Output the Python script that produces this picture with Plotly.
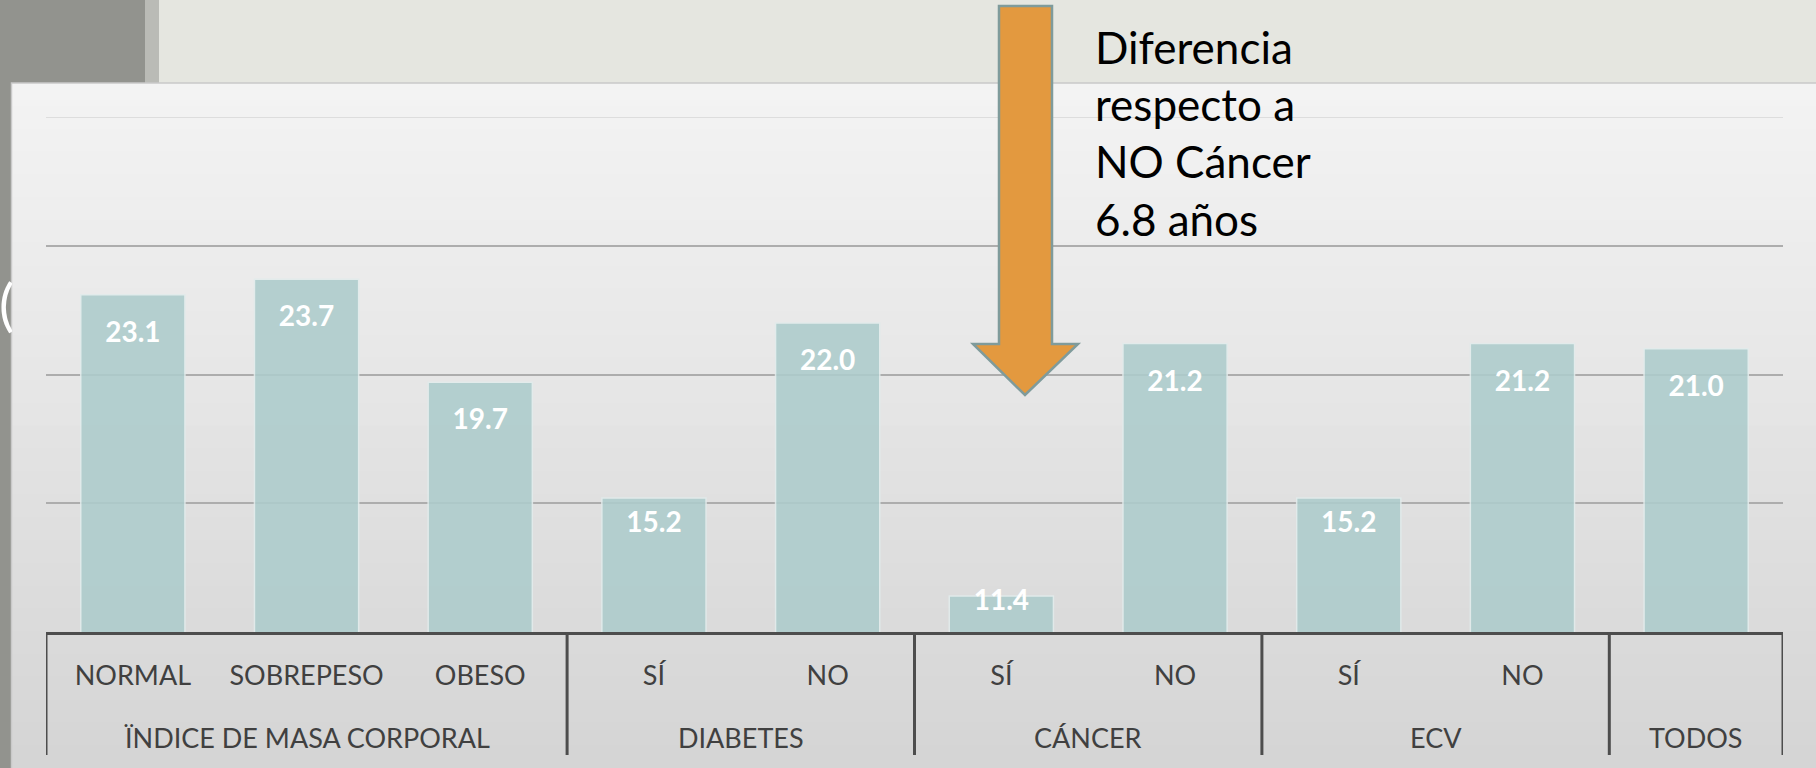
import plotly.graph_objects as go

# ---------------- data ----------------
groups = ["ÏNDICE DE MASA CORPORAL"] * 3 + ["DIABETES"] * 2 + ["CÁNCER"] * 2 + ["ECV"] * 2 + ["TODOS"]
subs = ["NORMAL", "SOBREPESO", "OBESO", "SÍ", "NO", "SÍ", "NO", "SÍ", "NO", ""]
values = [23.1, 23.7, 19.7, 15.2, 22.0, 11.4, 21.2, 15.2, 21.2, 21.0]
note_lines = ["Diferencia", "respecto a", "NO Cáncer", "6.8 años"]
y_min, y_max, y_step = 10, 30, 5

# ---------------- geometry helpers ----------------
W, H = 1816, 768
L, R, T, B = 46, 33, 117, 136
PW, PH = W - L - R, H - T - B


def px(x):
    return (x - L) / PW


def py(y):
    return (H - B - y) / PH


FONT = "Lato"
n_cat = len(values)
x_idx = list(range(n_cat))

# group spans derived from the group list
group_names, group_start, group_end = [], [], []
for i, g in enumerate(groups):
    if i == 0 or g != groups[i - 1]:
        group_names.append(g)
        group_start.append(i)
        group_end.append(i)
    else:
        group_end[-1] = i

# data label positions (inside the bar, near the top)
label_y = [max(v - 1.55, v - 0.2 * (v - y_min)) for v in values]

fig = go.Figure()
fig.add_trace(go.Bar(
    x=x_idx, y=values,
    marker=dict(color="#ADCCCC", line=dict(color="#E2ECEC", width=1.5)),
    opacity=0.88, width=0.6, hoverinfo="skip", showlegend=False,
))
fig.add_trace(go.Scatter(
    x=x_idx, y=label_y, mode="text",
    text=[f"{v:.1f}" for v in values],
    textfont=dict(family=FONT, size=28, color="white", weight="bold"),
    hoverinfo="skip", showlegend=False,
))

shapes = []
# top band & strips
shapes.append(dict(type="rect", xref="paper", yref="paper", x0=px(159), x1=px(W), y0=py(0), y1=py(83),
                   fillcolor="#E5E6E0", line=dict(width=0), layer="below"))
shapes.append(dict(type="rect", xref="paper", yref="paper", x0=px(145), x1=px(159), y0=py(0), y1=py(83),
                   fillcolor="#BABBB6", line=dict(width=0), layer="below"))
# panel gradient (vertical bands)
nb = 30
top_c, bot_c = (243, 243, 243), (213, 213, 213)
y_start, y_end = 83, H
for i in range(nb):
    t = i / (nb - 1)
    c = tuple(int(round(top_c[k] + (bot_c[k] - top_c[k]) * t)) for k in range(3))
    ya = y_start + (y_end - y_start) * i / nb
    yb = y_start + (y_end - y_start) * (i + 1) / nb + 1
    shapes.append(dict(type="rect", xref="paper", yref="paper", x0=px(11.5), x1=px(W),
                       y0=py(ya), y1=py(min(yb, H)),
                       fillcolor="rgb(%d,%d,%d)" % c, line=dict(width=0), layer="below"))
# panel border
shapes.append(dict(type="path", xref="paper", yref="paper",
                   path="M %f %f L %f %f L %f %f" % (px(11.5), py(H), px(11.5), py(83), px(W), py(83)),
                   line=dict(color="#C9C9C9", width=1.5), layer="below"))
# top gridline (lighter)
shapes.append(dict(type="line", xref="paper", yref="y", x0=0, x1=1, y0=y_max, y1=y_max,
                   line=dict(color="#DDDDDD", width=2), layer="below"))
# group dividers
bounds = [s - 0.5 for s in group_start] + [group_end[-1] + 0.5]
for b in bounds:
    shapes.append(dict(type="line", xref="x", yref="paper", x0=b, x1=b, y0=0, y1=py(755),
                       line=dict(color="#4D4D4D", width=3), layer="above"))
# arrow
pts = [(999, 6), (1052, 6), (1052, 344), (1078, 344), (1025, 395), (973, 344), (999, 344)]
path = "M " + " L ".join("%f %f" % (px(a), py(b)) for a, b in pts) + " Z"
shapes.append(dict(type="path", xref="paper", yref="paper", path=path,
                   fillcolor="#E3993F", line=dict(color="#7F9B9B", width=2.5), layer="above"))

annotations = [
    dict(xref="paper", yref="paper", x=px(1093), y=py(133), xanchor="left", yanchor="middle",
         align="left", showarrow=False, text="<br>".join(note_lines),
         font=dict(family=FONT, size=44, color="#000000")),
    dict(xref="paper", yref="paper", x=px(-3), y=py(303), xanchor="left", yanchor="middle",
         showarrow=False, text="(", font=dict(family=FONT, size=56, color="#FFFFFF")),
]
for name, s, e in zip(group_names, group_start, group_end):
    annotations.append(dict(xref="x", yref="paper", x=(s + e) / 2, y=0, yshift=-105,
                            xanchor="center", yanchor="middle", showarrow=False, text=name,
                            font=dict(family=FONT, size=27, color="#404040")))

fig.update_layout(
    width=W, height=H,
    margin=dict(l=L, r=R, t=T, b=B, pad=0),
    paper_bgcolor="#92938E", plot_bgcolor="rgba(0,0,0,0)",
    font=dict(family=FONT, color="#404040"),
    shapes=shapes, annotations=annotations,
    xaxis=dict(range=[-0.5, n_cat - 0.5], tickmode="array", tickvals=x_idx, ticktext=subs,
               showline=True, linecolor="#4D4D4D", linewidth=3,
               ticks="", showgrid=False, zeroline=False,
               tickfont=dict(family=FONT, size=27, color="#404040"),
               ticklabelstandoff=18),
    yaxis=dict(range=[y_min, y_max], tickmode="array",
               tickvals=list(range(y_min + y_step, y_max, y_step)),
               showgrid=True, gridcolor="#ADADAD", gridwidth=2, showticklabels=False,
               zeroline=False, showline=False),
)

fig.write_html("out.html", config={"displayModeBar": False},
               post_script="document.body.style.margin='0';document.body.style.overflow='hidden';")
